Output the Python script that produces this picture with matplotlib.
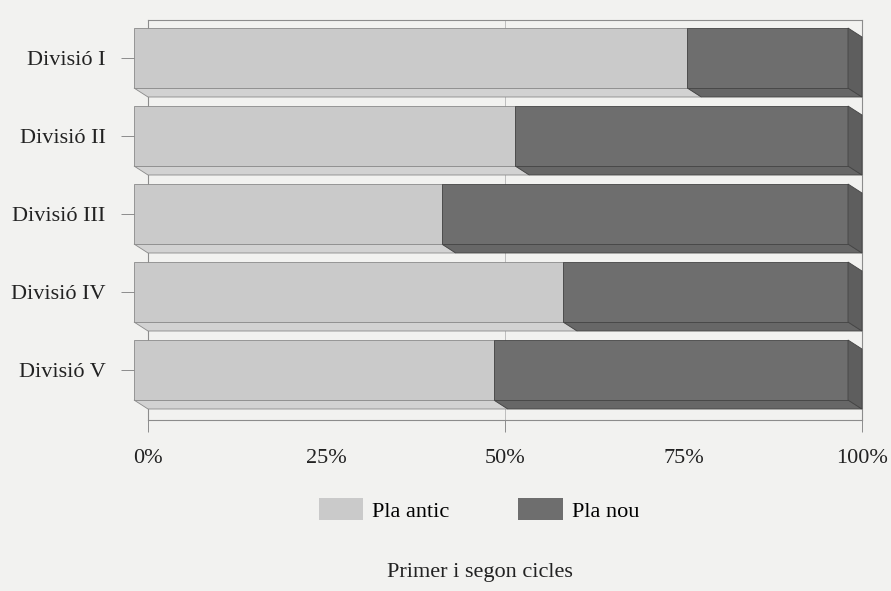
import matplotlib
matplotlib.use("Agg")
import matplotlib.pyplot as plt
from matplotlib.patches import Polygon, Patch

# ---- data ----
categories = ["Divisió I", "Divisió II", "Divisió III", "Divisió IV", "Divisió V"]
pla_antic = [77.5, 53.4, 43.1, 60.1, 50.4]
pla_nou = [100 - v for v in pla_antic]
series_names = ["Pla antic", "Pla nou"]
xtick_vals = [0, 25, 50, 75, 100]
xtick_labels = ["0%", "25%", "50%", "75%", "100%"]
title = "Primer i segon cicles"

# ---- style ----
plt.rcParams['font.family'] = ['Liberation Serif', 'DejaVu Serif']
FS = 16
bg = '#f2f2f0'
face_cols = ['#cacaca', '#6e6e6e']
bottom_cols = ['#d2d2d2', '#676767']
side_col = '#5e5e5e'
edge_cols = ['#8a8a8a', '#444444']

fig = plt.figure(figsize=(8.91, 5.91), dpi=100, facecolor=bg)
ax = fig.add_axes([148/891, 1 - 420/591, 714/891, 400/591])
ax.set_facecolor(bg)

n = len(categories)
ax.set_xlim(0, 100)
ax.set_ylim(4 + 41/78, -47/78)

dx = 14 / 714 * 100      # depth offset in x (data units)
dy = 9 / 78              # depth offset in y (data units)
hh = 30 / 78             # half bar height

ax.axvline(50, color='#bdbdbd', lw=0.7, zorder=1)

for i in range(n):
    segs = [(0, pla_antic[i]), (pla_antic[i], pla_antic[i] + pla_nou[i])]
    for k, (x0, x1) in enumerate(segs):
        bot = Polygon([(x0 - dx, i - dy + hh), (x1 - dx, i - dy + hh),
                       (x1, i + hh), (x0, i + hh)], closed=True,
                      facecolor=bottom_cols[k], edgecolor=edge_cols[k], lw=0.6,
                      zorder=3 + k * 0.1, clip_on=False)
        ax.add_patch(bot)
    for k, (x0, x1) in enumerate(segs):
        front = Polygon([(x0 - dx, i - dy - hh), (x1 - dx, i - dy - hh),
                         (x1 - dx, i - dy + hh), (x0 - dx, i - dy + hh)], closed=True,
                        facecolor=face_cols[k], edgecolor=edge_cols[k], lw=0.6,
                        zorder=4 + k * 0.1, clip_on=False)
        ax.add_patch(front)
    xe = segs[-1][1]
    side = Polygon([(xe - dx, i - dy - hh), (xe, i - hh), (xe, i + hh),
                    (xe - dx, i - dy + hh)], closed=True,
                   facecolor=side_col, edgecolor=edge_cols[1], lw=0.6,
                   zorder=4.5, clip_on=False)
    ax.add_patch(side)

for s in ax.spines.values():
    s.set_color('#8c8c8c')
    s.set_linewidth(0.8)

ax.set_yticks([i - dy for i in range(n)])
ax.set_yticklabels(categories, fontsize=FS, color='#222222')
ax.tick_params(axis='y', direction='out', length=19.5, width=0.7, color='#8c8c8c', pad=11)

ax.set_xticks([0, 50, 100])
ax.set_xticklabels([xtick_labels[xtick_vals.index(v)] for v in [0, 50, 100]],
                   fontsize=FS, color='#222222')
ax.set_xticks([25, 75], minor=True)
ax.set_xticklabels([xtick_labels[xtick_vals.index(v)] for v in [25, 75]],
                   minor=True, fontsize=FS, color='#222222')
ax.tick_params(axis='x', which='major', direction='out', length=8.6, width=0.7,
               color='#8c8c8c', pad=12.5)
ax.tick_params(axis='x', which='minor', length=0, pad=21.1)

handles = [Patch(facecolor=face_cols[0], edgecolor='none'),
           Patch(facecolor=face_cols[1], edgecolor='none')]
fig.legend(handles, series_names, loc='center', bbox_to_anchor=(479/891, 1 - 510/591),
           ncol=2, frameon=False, fontsize=FS, handlelength=2.0, handleheight=1.15,
           handletextpad=0.4, columnspacing=3.1)

fig.text(480/891, 1 - 572/591, title, ha='center', va='center', fontsize=FS, color='#222222')

fig.savefig('out.png', dpi=100, facecolor=bg)
